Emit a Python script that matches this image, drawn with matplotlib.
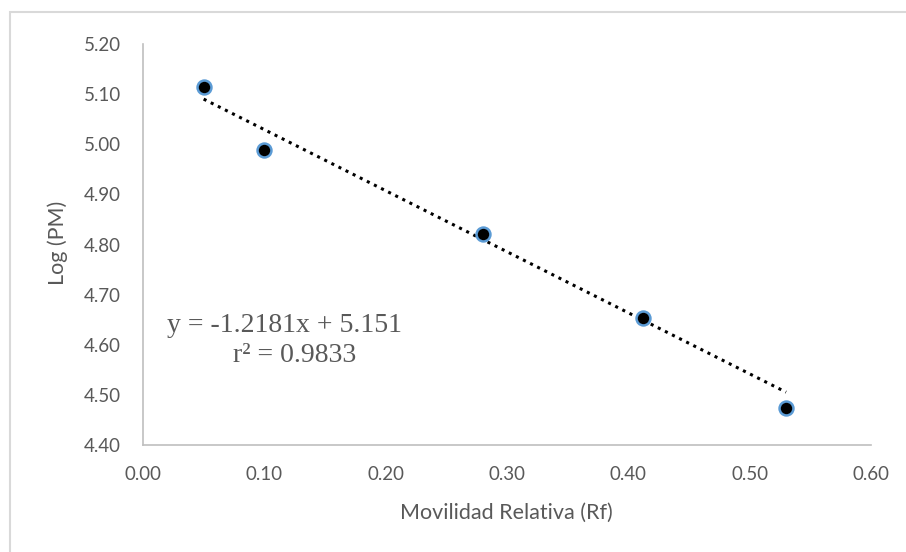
import numpy as np
import matplotlib.pyplot as plt
from matplotlib.patches import Rectangle

rf = [0.05, 0.10, 0.28, 0.412, 0.53]
log_pm = [5.114, 4.988, 4.821, 4.653, 4.474]
x_ticks = [0.0, 0.1, 0.2, 0.3, 0.4, 0.5, 0.6]
y_ticks = [4.4, 4.5, 4.6, 4.7, 4.8, 4.9, 5.0, 5.1, 5.2]
slope = -1.2181
intercept = 5.151
r2 = 0.9833

fig = plt.figure(figsize=(9.06, 5.52), dpi=100)
fig.patches.append(Rectangle((10/906, -0.05), 1.1, 1 - 12/552 + 0.05,
                             transform=fig.transFigure, fill=False,
                             edgecolor='#d9d9d9', linewidth=1.5))
ax = fig.add_axes([143/906, 1 - 445/552, (871 - 143)/906, (445 - 44)/552])

xf = np.array([min(rf), max(rf)])
ax.plot(xf, slope*xf + intercept, color='black', linestyle=(0, (1, 1.6)),
        linewidth=2.2, zorder=2)
ax.scatter(rf, log_pm, s=100, color='black', edgecolor='#5b9bd5',
           linewidth=1.8, zorder=3)

ax.set_xlim(0, 0.6)
ax.set_ylim(4.4, 5.2)
ax.set_xticks(x_ticks)
ax.set_yticks(y_ticks)
ax.set_xticklabels(['%.2f' % v for v in x_ticks])
ax.set_yticklabels(['%.2f' % v for v in y_ticks])
for s in ['top', 'right']:
    ax.spines[s].set_visible(False)
for s in ['left', 'bottom']:
    ax.spines[s].set_color('#bfbfbf')
    ax.spines[s].set_linewidth(1.2)
ax.tick_params(length=0, labelsize=13.5, labelcolor='#595959')
ax.tick_params(axis='x', pad=15)
ax.tick_params(axis='y', pad=16)
for lab in ax.get_xticklabels() + ax.get_yticklabels():
    lab.set_family('Lato')

ax.set_xlabel('Movilidad Relativa (Rf)', fontsize=15.5, color='#595959',
              family='Lato', va='center')
ax.set_ylabel('Log (PM)', fontsize=15.5, color='#595959', family='Lato',
              va='center', ha='center')
ax.xaxis.set_label_coords(0.4986, -0.1696)
ax.yaxis.set_label_coords(-0.1168, 0.5037)

ax.text(0.0198, 4.639, 'y = %.4fx + %.3f' % (slope, intercept),
        fontsize=20, family='Liberation Serif', color='#595959',
        ha='left', va='center')
ax.text(0.1253, 4.579, 'r² = %.4f' % r2, fontsize=20,
        family='Liberation Serif', color='#595959', ha='center', va='center')

fig.savefig('out.png', dpi=100)
